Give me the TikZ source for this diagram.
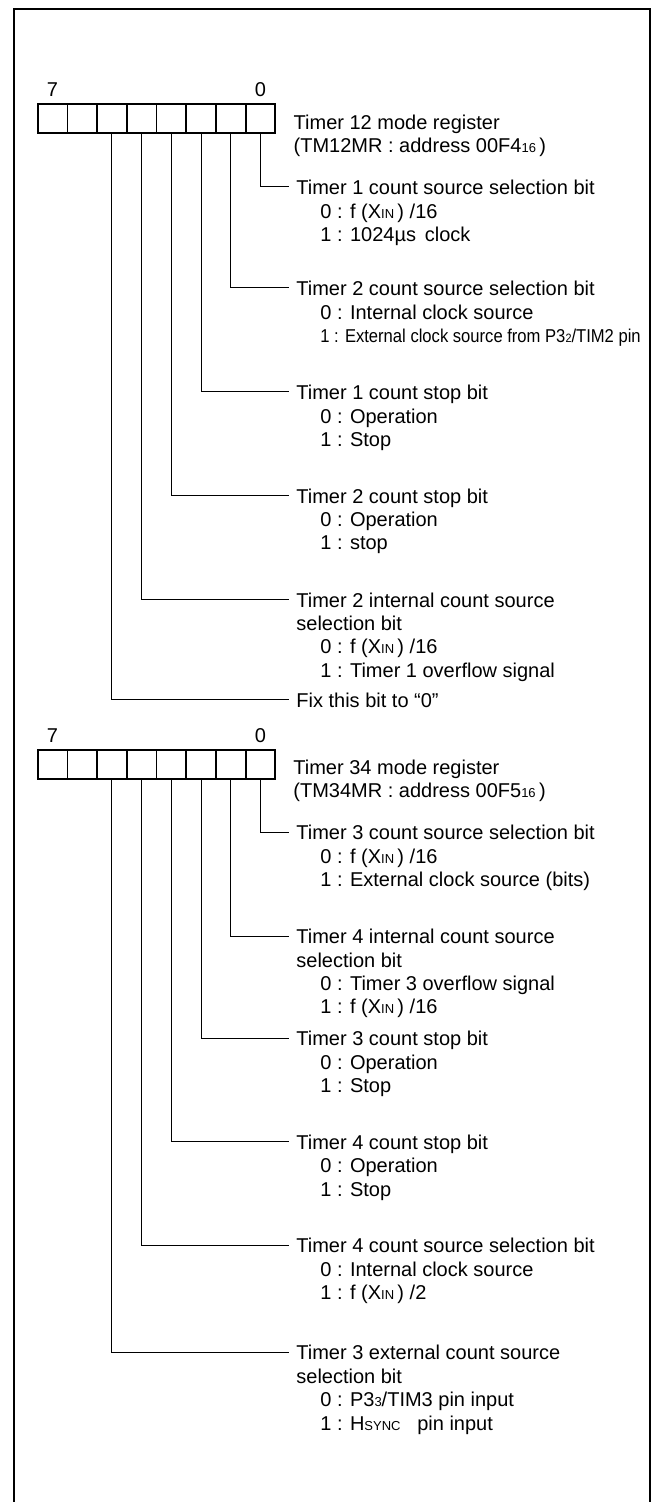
\documentclass[tikz,border=0pt]{standalone}
\usepackage{graphicx}
\usepackage{fontspec}
\setmainfont{Liberation Sans}
\usetikzlibrary{positioning}
\newcommand{\sm}[1]{{\fontsize{6.5}{7}\selectfont #1}}
\newcommand{\ind}{\hspace*{12pt}}
\begin{document}
\begin{tikzpicture}[x=0.5pt,y=-0.5pt,
  cell/.style={draw,line width=0.9pt,minimum width=14.85pt,minimum height=14.65pt,inner sep=0pt},
  bitnum/.style={inner sep=0pt,font=\fontsize{10}{11.7}\selectfont},
  lbl/.style={anchor=north west,inner sep=0pt,align=left,font=\fontsize{10}{11.7}\selectfont},
  lead/.style={line width=0.5pt}]
\useasboundingbox (0,0) rectangle (656,1502);
\draw[line width=1pt] (14.3,1530)--(14.3,9.3)--(650,9.3)--(650,1530);
\node[cell] (a7) at (52.55,118.7) {};
\node[cell] (a6) at (82.25,118.7) {};
\node[cell] (a5) at (111.95,118.7) {};
\node[cell] (a4) at (141.65,118.7) {};
\node[cell] (a3) at (171.35,118.7) {};
\node[cell] (a2) at (201.05,118.7) {};
\node[cell] (a1) at (230.75,118.7) {};
\node[cell] (a0) at (260.45,118.7) {};
\node[bitnum,above=3pt of a7] (a7n) {7};
\node[bitnum,above=3pt of a0] (a0n) {0};
\node[lbl] (tma) at (293.3,114.5) {Timer 12 mode register\\(TM12MR : address 00F4\sm{16}\,)};
\node[lbl] (ta0) at (296,179.8) {Timer 1 count source selection bit\\\ind 0 : f (X\sm{IN}\,) /16\\\ind 1 : 1024µs \,clock};
\node[lbl] (ta1) at (296,280.8) {Timer 2 count source selection bit\\\ind 0 : Internal clock source\\\ind\scalebox{0.83}[0.93]{1 : External clock source from P3\sm{2}/TIM2 pin}};
\node[lbl] (ta2) at (296,384.8) {Timer 1 count stop bit\\\ind 0 : Operation\\\ind 1 : Stop};
\node[lbl] (ta3) at (296,488.3) {Timer 2 count stop bit\\\ind 0 : Operation\\\ind 1 : stop};
\node[lbl] (ta4) at (296,592.3) {Timer 2 internal count source\\selection bit\\\ind 0 : f (X\sm{IN}\,) /16\\\ind 1 : Timer 1 overflow signal};
\node[lbl] (ta5) at (296,692.3) {Fix this bit to “0”};
\draw[lead] (a0.south) |- ([xshift=-3.5pt,yshift=-3.6pt]ta0.north west);
\draw[lead] (a1.south) |- ([xshift=-3.5pt,yshift=-3.6pt]ta1.north west);
\draw[lead] (a2.south) |- ([xshift=-3.5pt,yshift=-3.6pt]ta2.north west);
\draw[lead] (a3.south) |- ([xshift=-3.5pt,yshift=-3.6pt]ta3.north west);
\draw[lead] (a4.south) |- ([xshift=-3.5pt,yshift=-3.6pt]ta4.north west);
\draw[lead] (a5.south) |- ([xshift=-3.5pt,yshift=-3.6pt]ta5.north west);
\node[cell] (b7) at (52.55,764.7) {};
\node[cell] (b6) at (82.25,764.7) {};
\node[cell] (b5) at (111.95,764.7) {};
\node[cell] (b4) at (141.65,764.7) {};
\node[cell] (b3) at (171.35,764.7) {};
\node[cell] (b2) at (201.05,764.7) {};
\node[cell] (b1) at (230.75,764.7) {};
\node[cell] (b0) at (260.45,764.7) {};
\node[bitnum,above=3pt of b7] (b7n) {7};
\node[bitnum,above=3pt of b0] (b0n) {0};
\node[lbl] (tmb) at (293,759.5) {Timer 34 mode register\\(TM34MR : address 00F5\sm{16}\,)};
\node[lbl] (tb0) at (296,824.8) {Timer 3 count source selection bit\\\ind 0 : f (X\sm{IN}\,) /16\\\ind 1 : External clock source (bits)};
\node[lbl] (tb1) at (296,928.8) {Timer 4 internal count source\\selection bit\\\ind 0 : Timer 3 overflow signal\\\ind 1 : f (X\sm{IN}\,) /16};
\node[lbl] (tb2) at (296,1030.8) {Timer 3 count stop bit\\\ind 0 : Operation\\\ind 1 : Stop};
\node[lbl] (tb3) at (296,1134.3) {Timer 4 count stop bit\\\ind 0 : Operation\\\ind 1 : Stop};
\node[lbl] (tb4) at (296,1237.8) {Timer 4 count source selection bit\\\ind 0 : Internal clock source\\\ind 1 : f (X\sm{IN}\,) /2};
\node[lbl] (tb5) at (296,1345) {Timer 3 external count source\\selection bit\\\ind 0 : P3\sm{3}/TIM3 pin input\\\ind 1 : H\sm{SYNC}\ \ \ pin input};
\draw[lead] (b0.south) |- ([xshift=-3.5pt,yshift=-3.6pt]tb0.north west);
\draw[lead] (b1.south) |- ([xshift=-3.5pt,yshift=-3.6pt]tb1.north west);
\draw[lead] (b2.south) |- ([xshift=-3.5pt,yshift=-3.6pt]tb2.north west);
\draw[lead] (b3.south) |- ([xshift=-3.5pt,yshift=-3.6pt]tb3.north west);
\draw[lead] (b4.south) |- ([xshift=-3.5pt,yshift=-3.6pt]tb4.north west);
\draw[lead] (b5.south) |- ([xshift=-3.5pt,yshift=-3.6pt]tb5.north west);
\end{tikzpicture}
\end{document}
